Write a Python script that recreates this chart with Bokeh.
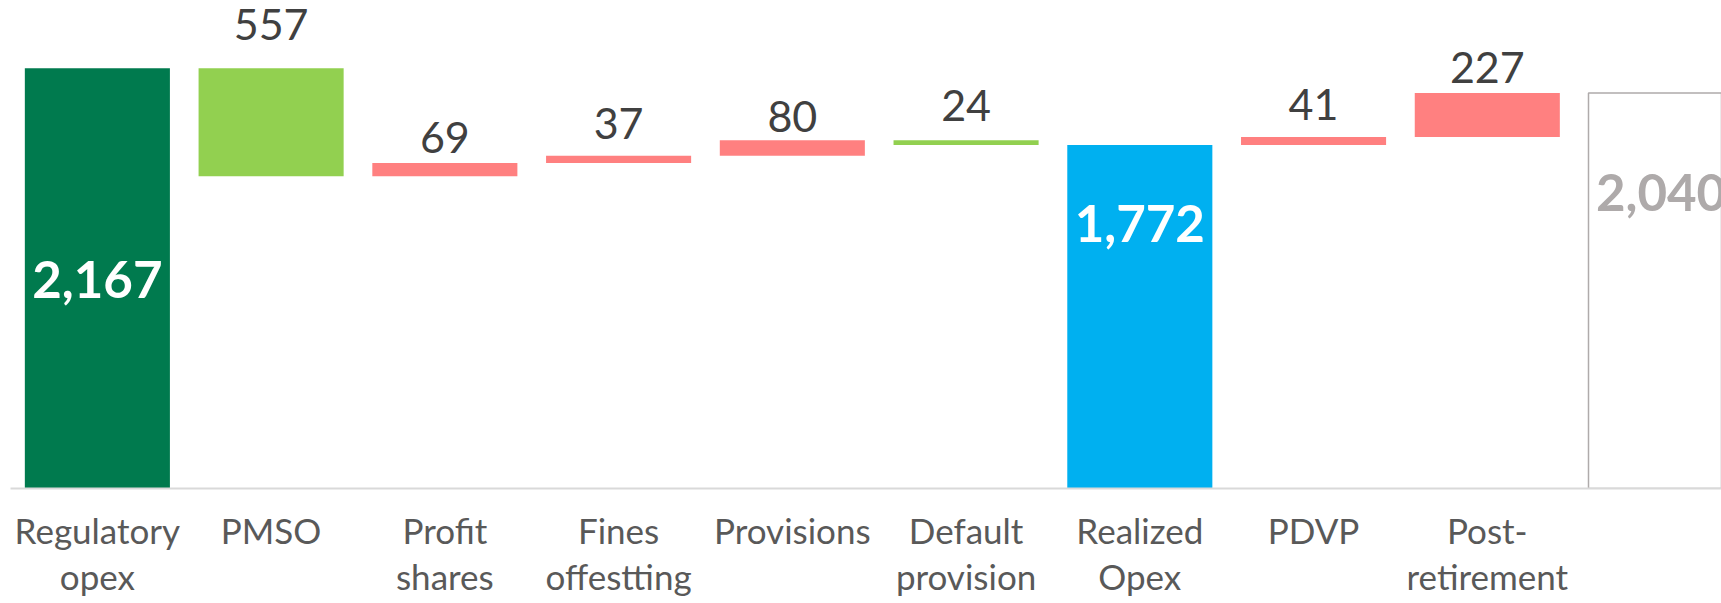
from bokeh.plotting import figure
from bokeh.models import ColumnDataSource, Range1d, FixedTicker
from bokeh.core.properties import value
from bokeh.embed import file_html
from bokeh.resources import INLINE

# ---------------- data ----------------
categories = ["Regulatory\nopex", "PMSO", "Profit\nshares", "Fines\noffestting",
              "Provisions", "Default\nprovision", "Realized\nOpex", "PDVP",
              "Post-\nretirement", ""]
amounts = [2167, 557, 69, 37, 80, 24, 1772, 41, 227, 2040]
kinds = ["total", "down", "up", "up", "up", "down", "total", "up", "up", "total"]
labels = ["2,167", "557", "69", "37", "80", "24", "1,772", "41", "227", "2,040"]

# ---------------- styles ----------------
fill_colors = ["#007A4E", "#92D050", "#FF8080", "#FF8080", "#FF8080",
               "#92D050", "#00B0F0", "#FF8080", "#FF8080", "#FFFFFF"]
outline_alpha = [0, 0, 0, 0, 0, 0, 0, 0, 0, 1]
total_text_colors = {"2,167": "#FFFFFF", "1,772": "#FFFFFF", "2,040": "#AEAAAA"}
# pixel offset of each label from its bar top (negative = above the bar)
label_offsets_px = [211, -44, -25, -32, -24, -35, 79, -32, -25, 100]

# ---------------- waterfall geometry ----------------
running = 0
bottoms, tops = [], []
for a, k in zip(amounts, kinds):
    if k == "total":
        bottoms.append(0)
        tops.append(a)
        running = a
    elif k == "up":
        bottoms.append(running)
        tops.append(running + a)
        running += a
    else:
        tops.append(running)
        bottoms.append(running - a)
        running -= a

xs = list(range(len(amounts)))

p = figure(frame_width=1711, frame_height=488,
           x_range=Range1d(-0.5, 9.348), y_range=Range1d(0, 2517),
           output_backend="svg", toolbar_location=None, y_axis_location=None,
           min_border_left=10, min_border_right=0, min_border_top=0,
           min_border_bottom=115, title=None)
p.outline_line_color = None
p.grid.visible = False
p.background_fill_color = "white"
p.border_fill_color = "white"

bar_src = ColumnDataSource(dict(x=xs, top=tops, bottom=bottoms,
                                fill=fill_colors, la=outline_alpha))
p.vbar(x="x", width=0.835, top="top", bottom="bottom", fill_color="fill",
       line_color="#AFABAB", line_width=1.5, line_alpha="la", source=bar_src)

step_idx = [i for i, k in enumerate(kinds) if k != "total"]
tot_idx = [i for i, k in enumerate(kinds) if k == "total"]

step_src = ColumnDataSource(dict(
    x=[xs[i] for i in step_idx], y=[tops[i] for i in step_idx],
    text=[labels[i] for i in step_idx], yoff=[label_offsets_px[i] for i in step_idx]))
p.text(x="x", y="y", text="text", y_offset="yoff", source=step_src,
       text_align="center", text_baseline="alphabetic",
       text_font=value("Lato"), text_font_size="43px", text_color="#404040")

tot_src = ColumnDataSource(dict(
    x=[xs[i] for i in tot_idx], y=[tops[i] for i in tot_idx],
    text=[labels[i] for i in tot_idx], yoff=[label_offsets_px[i] for i in tot_idx],
    color=[total_text_colors[labels[i]] for i in tot_idx]))
p.text(x="x", y="y", text="text", y_offset="yoff", source=tot_src,
       text_align="center", text_baseline="alphabetic",
       text_font=value("Lato"), text_font_style="bold", text_font_size="51px",
       text_color="color")

xa = p.xaxis[0]
xa.ticker = FixedTicker(ticks=xs[:9])
xa.major_label_overrides = {i: categories[i] for i in xs[:9]}
xa.axis_line_color = "#D9D9D9"
xa.axis_line_width = 2
xa.major_tick_line_color = None
xa.minor_tick_line_color = None
xa.major_tick_out = 0
xa.major_tick_in = 0
xa.minor_tick_out = 0
xa.minor_tick_in = 0
xa.major_label_standoff = 20
xa.major_label_text_font = "Lato"
xa.major_label_text_font_size = "35px"
xa.major_label_text_color = "#595959"
xa.major_label_text_line_height = 1.1

open("out.html", "w").write(file_html(p, INLINE))
